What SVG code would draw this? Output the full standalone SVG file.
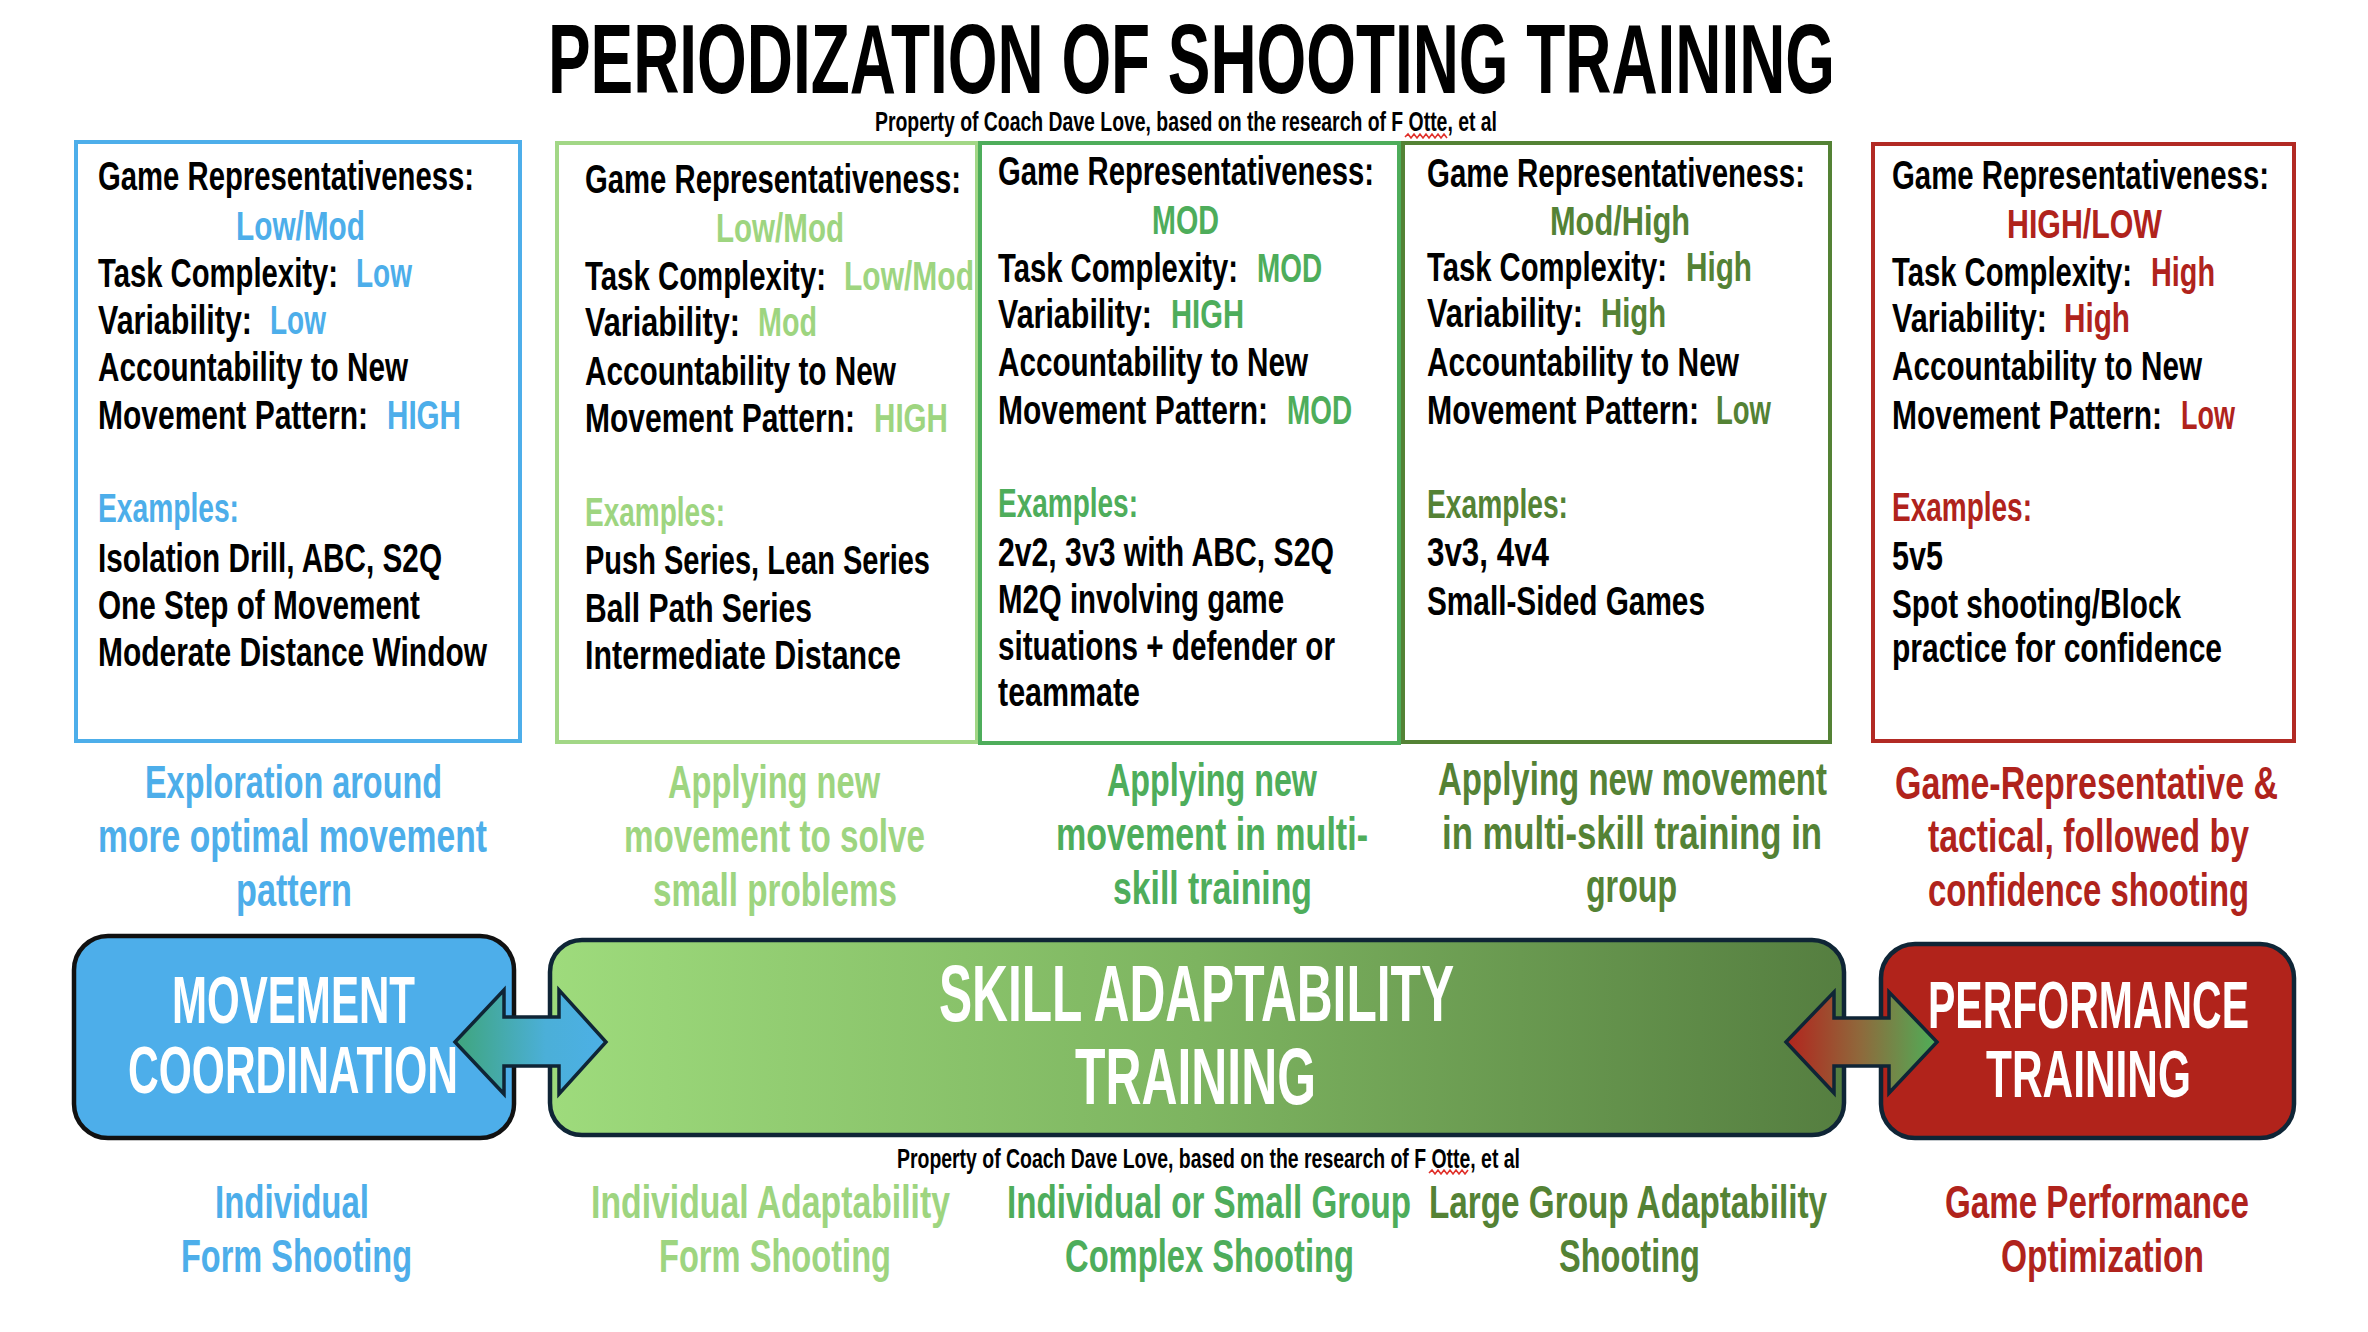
<svg xmlns="http://www.w3.org/2000/svg" width="2368" height="1332" viewBox="0 0 2368 1332">
<defs>
<style>
text{font-family:"Liberation Sans Narrow","Liberation Sans",Arial,sans-serif;font-weight:bold}
.k{fill:#000}.w{fill:#fff}
.b{fill:#4DAEEA}.lg{fill:#9ED580}.mg{fill:#4EAD5B}.dg{fill:#548235}.r{fill:#B0231C}
.f41{font-size:41px}.f46{font-size:46px}.f47{font-size:47px}.f27{font-size:27px}.f67{font-size:67px}.f80{font-size:80px}
.box{fill:#fff;stroke-width:4}
.sq{fill:none;stroke:#E0302A;stroke-width:1.6}
.arr{stroke:#0F2536;stroke-width:3.5;stroke-linejoin:miter}
</style>
<linearGradient id="gSkill" x1="0" y1="0" x2="1" y2="0">
<stop offset="0" stop-color="#9EDB7C"/>
<stop offset="0.5" stop-color="#7DB460"/>
<stop offset="1" stop-color="#557E40"/>
</linearGradient>
<linearGradient id="gArrL" x1="0" y1="0" x2="1" y2="0">
<stop offset="0" stop-color="#3FA57C"/>
<stop offset="0.6" stop-color="#4BAFD8"/>
<stop offset="1" stop-color="#4CB0E6"/>
</linearGradient>
<linearGradient id="gArrR" x1="0" y1="0" x2="1" y2="0">
<stop offset="0" stop-color="#B3241D"/>
<stop offset="0.5" stop-color="#8E6A3C"/>
<stop offset="1" stop-color="#4EAF58"/>
</linearGradient>
</defs>
<rect width="2368" height="1332" fill="#fff"/>

<g id="title">
<text class="k" x="548" y="93" font-size="99" textLength="1287" lengthAdjust="spacingAndGlyphs">PERIODIZATION OF SHOOTING TRAINING</text>
<text class="k f27" x="875" y="131" textLength="622" lengthAdjust="spacingAndGlyphs">Property of Coach Dave Love, based on the research of F Otte, et al</text>
<polyline class="sq" points="1405,137 1408,134 1411,138 1414,134 1417,138 1420,134 1423,138 1426,134 1429,138 1432,134 1435,138 1438,134 1441,138 1444,134 1447,138"/>
</g>

<g id="box-movement-details">
<rect class="box" x="76" y="142" width="444" height="599" stroke="#4DAEEA"/>
<text class="k f41" x="98" y="190" textLength="376" lengthAdjust="spacingAndGlyphs">Game Representativeness:</text>
<text class="b f41" x="236" y="240" textLength="129" lengthAdjust="spacingAndGlyphs">Low/Mod</text>
<text class="k f41" x="98" y="287" textLength="240" lengthAdjust="spacingAndGlyphs">Task Complexity:</text>
<text class="b f41" x="356" y="287" textLength="56" lengthAdjust="spacingAndGlyphs">Low</text>
<text class="k f41" x="98" y="334" textLength="154" lengthAdjust="spacingAndGlyphs">Variability:</text>
<text class="b f41" x="270" y="334" textLength="56" lengthAdjust="spacingAndGlyphs">Low</text>
<text class="k f41" x="98" y="381" textLength="310" lengthAdjust="spacingAndGlyphs">Accountability to New</text>
<text class="k f41" x="98" y="429" textLength="270" lengthAdjust="spacingAndGlyphs">Movement Pattern:</text>
<text class="b f41" x="387" y="429" textLength="74" lengthAdjust="spacingAndGlyphs">HIGH</text>
<text class="b f41" x="98" y="522" textLength="141" lengthAdjust="spacingAndGlyphs">Examples:</text>
<text class="k f41" x="98" y="572" textLength="344" lengthAdjust="spacingAndGlyphs">Isolation Drill, ABC, S2Q</text>
<text class="k f41" x="98" y="619" textLength="322" lengthAdjust="spacingAndGlyphs">One Step of Movement</text>
<text class="k f41" x="98" y="666" textLength="389" lengthAdjust="spacingAndGlyphs">Moderate Distance Window</text>
</g>

<g id="box-individual-adaptability-details">
<rect class="box" x="557" y="143" width="420" height="599" stroke="#A2D786"/>
<text class="k f41" x="585" y="193" textLength="376" lengthAdjust="spacingAndGlyphs">Game Representativeness:</text>
<text class="lg f41" x="716" y="242" textLength="128" lengthAdjust="spacingAndGlyphs">Low/Mod</text>
<text class="k f41" x="585" y="290" textLength="241" lengthAdjust="spacingAndGlyphs">Task Complexity:</text>
<text class="lg f41" x="844" y="290" textLength="130" lengthAdjust="spacingAndGlyphs">Low/Mod</text>
<text class="k f41" x="585" y="336" textLength="155" lengthAdjust="spacingAndGlyphs">Variability:</text>
<text class="lg f41" x="758" y="336" textLength="59" lengthAdjust="spacingAndGlyphs">Mod</text>
<text class="k f41" x="585" y="385" textLength="311" lengthAdjust="spacingAndGlyphs">Accountability to New</text>
<text class="k f41" x="585" y="432" textLength="270" lengthAdjust="spacingAndGlyphs">Movement Pattern:</text>
<text class="lg f41" x="874" y="432" textLength="74" lengthAdjust="spacingAndGlyphs">HIGH</text>
<text class="lg f41" x="585" y="526" textLength="140" lengthAdjust="spacingAndGlyphs">Examples:</text>
<text class="k f41" x="585" y="574" textLength="345" lengthAdjust="spacingAndGlyphs">Push Series, Lean Series</text>
<text class="k f41" x="585" y="622" textLength="227" lengthAdjust="spacingAndGlyphs">Ball Path Series</text>
<text class="k f41" x="585" y="669" textLength="316" lengthAdjust="spacingAndGlyphs">Intermediate Distance</text>
</g>

<g id="box-small-group-details">
<rect class="box" x="980" y="143" width="419" height="600" stroke="#4EAD5B"/>
<text class="k f41" x="998" y="185" textLength="376" lengthAdjust="spacingAndGlyphs">Game Representativeness:</text>
<text class="mg f41" x="1152" y="234" textLength="67" lengthAdjust="spacingAndGlyphs">MOD</text>
<text class="k f41" x="998" y="282" textLength="240" lengthAdjust="spacingAndGlyphs">Task Complexity:</text>
<text class="mg f41" x="1257" y="282" textLength="65" lengthAdjust="spacingAndGlyphs">MOD</text>
<text class="k f41" x="998" y="328" textLength="154" lengthAdjust="spacingAndGlyphs">Variability:</text>
<text class="mg f41" x="1171" y="328" textLength="73" lengthAdjust="spacingAndGlyphs">HIGH</text>
<text class="k f41" x="998" y="376" textLength="310" lengthAdjust="spacingAndGlyphs">Accountability to New</text>
<text class="k f41" x="998" y="424" textLength="270" lengthAdjust="spacingAndGlyphs">Movement Pattern:</text>
<text class="mg f41" x="1287" y="424" textLength="65" lengthAdjust="spacingAndGlyphs">MOD</text>
<text class="mg f41" x="998" y="517" textLength="140" lengthAdjust="spacingAndGlyphs">Examples:</text>
<text class="k f41" x="998" y="566" textLength="336" lengthAdjust="spacingAndGlyphs">2v2, 3v3 with ABC, S2Q</text>
<text class="k f41" x="998" y="613" textLength="286" lengthAdjust="spacingAndGlyphs">M2Q involving game</text>
<text class="k f41" x="998" y="660" textLength="337" lengthAdjust="spacingAndGlyphs">situations + defender or</text>
<text class="k f41" x="998" y="706" textLength="142" lengthAdjust="spacingAndGlyphs">teammate</text>
</g>

<g id="box-large-group-details">
<rect class="box" x="1403" y="143" width="427" height="599" stroke="#548235"/>
<text class="k f41" x="1427" y="187" textLength="378" lengthAdjust="spacingAndGlyphs">Game Representativeness:</text>
<text class="dg f41" x="1550" y="235" textLength="140" lengthAdjust="spacingAndGlyphs">Mod/High</text>
<text class="k f41" x="1427" y="281" textLength="240" lengthAdjust="spacingAndGlyphs">Task Complexity:</text>
<text class="dg f41" x="1686" y="281" textLength="66" lengthAdjust="spacingAndGlyphs">High</text>
<text class="k f41" x="1427" y="327" textLength="156" lengthAdjust="spacingAndGlyphs">Variability:</text>
<text class="dg f41" x="1601" y="327" textLength="65" lengthAdjust="spacingAndGlyphs">High</text>
<text class="k f41" x="1427" y="376" textLength="312" lengthAdjust="spacingAndGlyphs">Accountability to New</text>
<text class="k f41" x="1427" y="424" textLength="272" lengthAdjust="spacingAndGlyphs">Movement Pattern:</text>
<text class="dg f41" x="1716" y="424" textLength="55" lengthAdjust="spacingAndGlyphs">Low</text>
<text class="dg f41" x="1427" y="518" textLength="141" lengthAdjust="spacingAndGlyphs">Examples:</text>
<text class="k f41" x="1427" y="566" textLength="122" lengthAdjust="spacingAndGlyphs">3v3, 4v4</text>
<text class="k f41" x="1427" y="615" textLength="278" lengthAdjust="spacingAndGlyphs">Small-Sided Games</text>
</g>

<g id="box-performance-details">
<rect class="box" x="1873" y="144" width="421" height="597" stroke="#B22A24"/>
<text class="k f41" x="1892" y="189" textLength="377" lengthAdjust="spacingAndGlyphs">Game Representativeness:</text>
<text class="r f41" x="2007" y="238" textLength="155" lengthAdjust="spacingAndGlyphs">HIGH/LOW</text>
<text class="k f41" x="1892" y="286" textLength="240" lengthAdjust="spacingAndGlyphs">Task Complexity:</text>
<text class="r f41" x="2151" y="286" textLength="64" lengthAdjust="spacingAndGlyphs">High</text>
<text class="k f41" x="1892" y="332" textLength="155" lengthAdjust="spacingAndGlyphs">Variability:</text>
<text class="r f41" x="2064" y="332" textLength="66" lengthAdjust="spacingAndGlyphs">High</text>
<text class="k f41" x="1892" y="380" textLength="310" lengthAdjust="spacingAndGlyphs">Accountability to New</text>
<text class="k f41" x="1892" y="429" textLength="270" lengthAdjust="spacingAndGlyphs">Movement Pattern:</text>
<text class="r f41" x="2181" y="429" textLength="54" lengthAdjust="spacingAndGlyphs">Low</text>
<text class="r f41" x="1892" y="521" textLength="140" lengthAdjust="spacingAndGlyphs">Examples:</text>
<text class="k f41" x="1892" y="570" textLength="51" lengthAdjust="spacingAndGlyphs">5v5</text>
<text class="k f41" x="1892" y="618" textLength="289" lengthAdjust="spacingAndGlyphs">Spot shooting/Block</text>
<text class="k f41" x="1892" y="662" textLength="330" lengthAdjust="spacingAndGlyphs">practice for confidence</text>
</g>

<g id="label-exploration">
<text class="b f46" x="145" y="798" textLength="297" lengthAdjust="spacingAndGlyphs">Exploration around</text>
<text class="b f46" x="98" y="852" textLength="389" lengthAdjust="spacingAndGlyphs">more optimal movement</text>
<text class="b f46" x="236" y="906" textLength="116" lengthAdjust="spacingAndGlyphs">pattern</text>
</g>
<g id="label-small-problems">
<text class="lg f46" x="668" y="798" textLength="212" lengthAdjust="spacingAndGlyphs">Applying new</text>
<text class="lg f46" x="624" y="852" textLength="301" lengthAdjust="spacingAndGlyphs">movement to solve</text>
<text class="lg f46" x="653" y="906" textLength="244" lengthAdjust="spacingAndGlyphs">small problems</text>
</g>
<g id="label-multi-skill">
<text class="mg f46" x="1107" y="796" textLength="210" lengthAdjust="spacingAndGlyphs">Applying new</text>
<text class="mg f46" x="1056" y="850" textLength="312" lengthAdjust="spacingAndGlyphs">movement in multi-</text>
<text class="mg f46" x="1113" y="904" textLength="199" lengthAdjust="spacingAndGlyphs">skill training</text>
</g>
<g id="label-multi-skill-group">
<text class="dg f46" x="1438" y="795" textLength="389" lengthAdjust="spacingAndGlyphs">Applying new movement</text>
<text class="dg f46" x="1442" y="849" textLength="380" lengthAdjust="spacingAndGlyphs">in multi-skill training in</text>
<text class="dg f46" x="1586" y="902" textLength="91" lengthAdjust="spacingAndGlyphs">group</text>
</g>
<g id="label-game-representative">
<text class="r f46" x="1895" y="799" textLength="383" lengthAdjust="spacingAndGlyphs">Game-Representative &amp;</text>
<text class="r f46" x="1928" y="852" textLength="321" lengthAdjust="spacingAndGlyphs">tactical, followed by</text>
<text class="r f46" x="1928" y="906" textLength="321" lengthAdjust="spacingAndGlyphs">confidence shooting</text>
</g>

<g id="phase-movement-coordination">
<rect x="74" y="936" width="440" height="202" rx="34" fill="#4DAEEA" stroke="#111" stroke-width="4.5"/>
<text class="w f67" x="172" y="1023" textLength="243" lengthAdjust="spacingAndGlyphs">MOVEMENT</text>
<text class="w f67" x="128" y="1093" textLength="330" lengthAdjust="spacingAndGlyphs">COORDINATION</text>
</g>
<g id="phase-skill-adaptability">
<rect x="550" y="940" width="1294" height="195" rx="32" fill="url(#gSkill)" stroke="#0F2536" stroke-width="4.5"/>
<text class="w f80" x="939" y="1021" textLength="515" lengthAdjust="spacingAndGlyphs">SKILL ADAPTABILITY</text>
<text class="w f80" x="1075" y="1104" textLength="241" lengthAdjust="spacingAndGlyphs">TRAINING</text>
</g>
<g id="phase-performance">
<rect x="1881" y="944" width="413" height="194" rx="34" fill="#B1231B" stroke="#0F2536" stroke-width="4.5"/>
<text class="w f67" x="1928" y="1028" textLength="321" lengthAdjust="spacingAndGlyphs">PERFORMANCE</text>
<text class="w f67" x="1986" y="1097" textLength="205" lengthAdjust="spacingAndGlyphs">TRAINING</text>
</g>

<g id="connectors">
<path class="arr" fill="url(#gArrL)" d="M455,1042 L504,990 L504,1017 L559,1017 L559,990 L606,1042 L559,1094 L559,1066 L504,1066 L504,1094 Z"/>
<path class="arr" fill="url(#gArrR)" d="M1786,1042 L1834,992 L1834,1018 L1889,1018 L1889,992 L1937,1042 L1889,1093 L1889,1066 L1834,1066 L1834,1093 Z"/>
</g>

<g id="footer-note">
<text class="k f27" x="897" y="1168" textLength="623" lengthAdjust="spacingAndGlyphs">Property of Coach Dave Love, based on the research of F Otte, et al</text>
<polyline class="sq" points="1429,1173 1432,1170 1435,1174 1438,1170 1441,1174 1444,1170 1447,1174 1450,1170 1453,1174 1456,1170 1459,1174 1462,1170 1465,1174 1468,1170"/>
</g>

<g id="outcome-form-shooting">
<text class="b f47" x="215" y="1218" textLength="154" lengthAdjust="spacingAndGlyphs">Individual</text>
<text class="b f47" x="181" y="1272" textLength="231" lengthAdjust="spacingAndGlyphs">Form Shooting</text>
</g>
<g id="outcome-adaptability-form">
<text class="lg f47" x="591" y="1218" textLength="359" lengthAdjust="spacingAndGlyphs">Individual Adaptability</text>
<text class="lg f47" x="659" y="1272" textLength="232" lengthAdjust="spacingAndGlyphs">Form Shooting</text>
</g>
<g id="outcome-complex-shooting">
<text class="mg f47" x="1007" y="1218" textLength="404" lengthAdjust="spacingAndGlyphs">Individual or Small Group</text>
<text class="mg f47" x="1065" y="1272" textLength="289" lengthAdjust="spacingAndGlyphs">Complex Shooting</text>
</g>
<g id="outcome-large-group">
<text class="dg f47" x="1429" y="1218" textLength="398" lengthAdjust="spacingAndGlyphs">Large Group Adaptability</text>
<text class="dg f47" x="1559" y="1272" textLength="141" lengthAdjust="spacingAndGlyphs">Shooting</text>
</g>
<g id="outcome-game-performance">
<text class="r f47" x="1945" y="1218" textLength="304" lengthAdjust="spacingAndGlyphs">Game Performance</text>
<text class="r f47" x="2001" y="1272" textLength="203" lengthAdjust="spacingAndGlyphs">Optimization</text>
</g>
</svg>
